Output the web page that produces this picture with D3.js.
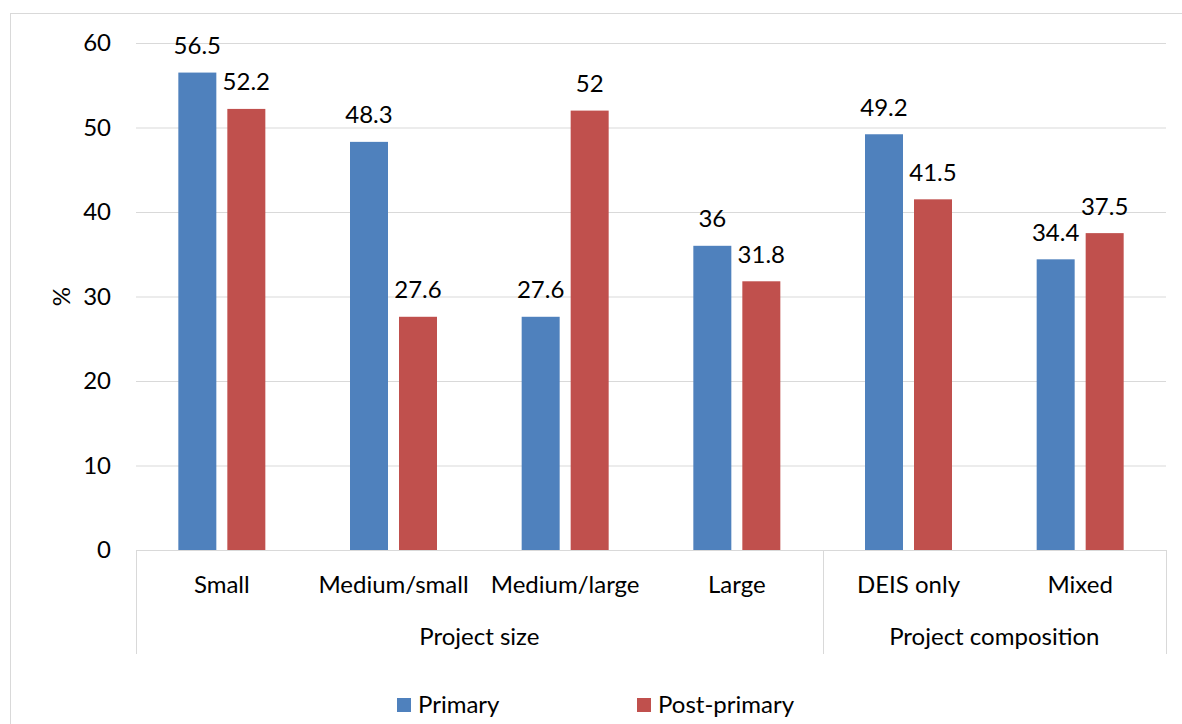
<!DOCTYPE html>
<html>
<head>
<meta charset="utf-8">
<script src="https://cdn.jsdelivr.net/npm/d3@7"></script>
<style>
  body { margin: 0; background: #fff; }
  text { font-family: Lato, "Open Sans", sans-serif; fill: #000; }
</style>
</head>
<body>
<svg id="chart"></svg>
<script>
// data
const categories = ["Small", "Medium/small", "Medium/large", "Large", "DEIS only", "Mixed"];
const primary = [56.5, 48.3, 27.6, 36, 49.2, 34.4];
const postPrimary = [52.2, 27.6, 52, 31.8, 41.5, 37.5];
const groups = [
  { name: "Project size", from: 0, to: 3 },
  { name: "Project composition", from: 4, to: 5 }
];
const seriesNames = ["Primary", "Post-primary"];
const yTicks = [0, 10, 20, 30, 40, 50, 60];

const width = 1182, height = 724;
const colors = ["#4F81BD", "#C0504D"];
const fs = "24px";

const svg = d3.select("#chart").attr("width", width).attr("height", height);

// outer chart border
svg.append("rect")
  .attr("x", 10.5).attr("y", 13.5)
  .attr("width", 1190).attr("height", 720)
  .attr("fill", "none").attr("stroke", "#d9d9d9");

const plotLeft = 136, plotRight = 1166, plotTop = 43, plotBottom = 550;

const x = d3.scaleBand().domain(categories).range([plotLeft, plotRight]);
const y = d3.scaleLinear().domain([0, 60]).range([plotBottom, plotTop]);

// gridlines
svg.append("g").selectAll("line")
  .data(yTicks.filter(t => t > 0))
  .enter().append("line")
  .attr("x1", plotLeft).attr("x2", plotRight)
  .attr("y1", d => y(d) + 0.5).attr("y2", d => y(d) + 0.5)
  .attr("stroke", "#d9d9d9").attr("stroke-width", 1);

// y tick labels
svg.append("g").selectAll("text")
  .data(yTicks)
  .enter().append("text")
  .attr("x", 111).attr("y", d => y(d))
  .attr("dy", "0.35em")
  .attr("text-anchor", "end")
  .style("font-size", fs)
  .text(d => d);

// y title
svg.append("text")
  .attr("transform", `translate(70,${(plotTop + plotBottom) / 2}) rotate(-90)`)
  .attr("text-anchor", "middle")
  .style("font-size", fs)
  .text("%");

// bars
const barW = 38, gap = 11;
const rows = categories.map((c, i) => ({ cat: c, vals: [primary[i], postPrimary[i]] }));

rows.forEach(r => {
  const cx = x(r.cat) + x.bandwidth() / 2;
  r.vals.forEach((v, s) => {
    const bx = s === 0 ? cx - gap / 2 - barW : cx + gap / 2;
    svg.append("rect")
      .attr("x", bx).attr("y", y(v))
      .attr("width", barW).attr("height", y(0) - y(v))
      .attr("fill", colors[s]);
    svg.append("text")
      .attr("x", bx + barW / 2).attr("y", y(v) - 27)
      .attr("dy", "0.35em")
      .attr("text-anchor", "middle")
      .style("font-size", fs)
      .text(v);
  });
});

// x axis line
svg.append("line")
  .attr("x1", plotLeft).attr("x2", plotRight)
  .attr("y1", plotBottom + 0.5).attr("y2", plotBottom + 0.5)
  .attr("stroke", "#d9d9d9");

// category labels
svg.append("g").selectAll("text")
  .data(categories)
  .enter().append("text")
  .attr("x", d => x(d) + x.bandwidth() / 2)
  .attr("y", 585).attr("dy", "0.35em")
  .attr("text-anchor", "middle")
  .style("font-size", fs)
  .text(d => d);

// group dividers
const dividers = [plotLeft, x(categories[4]), plotRight];
svg.append("g").selectAll("line")
  .data(dividers)
  .enter().append("line")
  .attr("x1", d => Math.round(d) + 0.5).attr("x2", d => Math.round(d) + 0.5)
  .attr("y1", plotBottom).attr("y2", 654)
  .attr("stroke", "#d9d9d9");

// group labels
svg.append("g").selectAll("text")
  .data(groups)
  .enter().append("text")
  .attr("x", d => (x(categories[d.from]) + x(categories[d.to]) + x.bandwidth()) / 2)
  .attr("y", 637).attr("dy", "0.35em")
  .attr("text-anchor", "middle")
  .style("font-size", fs)
  .text(d => d.name);

// legend
const legendX = [397, 637];
seriesNames.forEach((n, i) => {
  svg.append("rect")
    .attr("x", legendX[i]).attr("y", 698)
    .attr("width", 14).attr("height", 14)
    .attr("fill", colors[i]);
  svg.append("text")
    .attr("x", legendX[i] + 21).attr("y", 705).attr("dy", "0.35em")
    .style("font-size", fs)
    .text(n);
});
</script>
</body>
</html>
